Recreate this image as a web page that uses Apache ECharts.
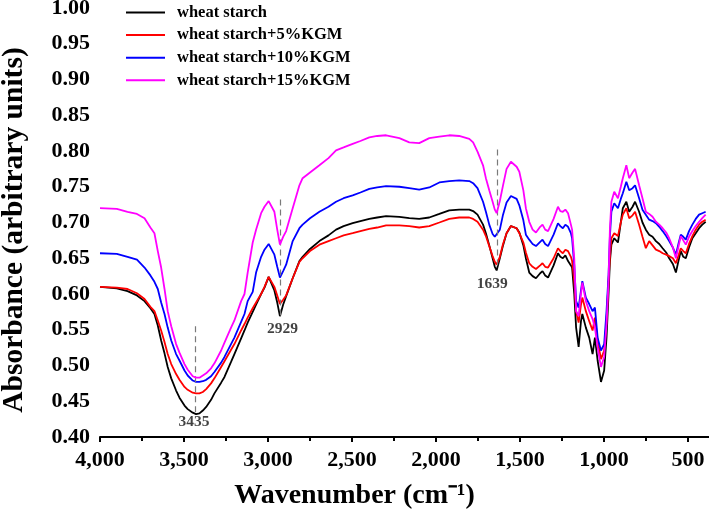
<!DOCTYPE html>
<html>
<head>
<meta charset="utf-8">
<script src="https://cdn.jsdelivr.net/npm/echarts@6/dist/echarts.min.js"></script>
<style>html,body{margin:0;padding:0;background:#fff}#c{width:709px;height:519px}</style>
</head>
<body>
<div id="c"></div>
<script>
const seriesNames = ['wheat starch', 'wheat starch+5%KGM', 'wheat starch+10%KGM', 'wheat starch+15%KGM'];
const seriesColors = ['#000000', '#ff0000', '#0000ff', '#ff00ff'];

const wavenumbers = [4000,3900,3836,3780,3735,3700,3676,3656,3636,3616,3597,3576,3547,3527,3497,3478,3448,3428,3408,3388,3368,3339,3319,3279,3259,3220,3200,3160,3140,3121,3091,3071,3041,3021,2996,2962,2945,2929,2910,2892,2853,2813,2794,2750,2694,2640,2595,2550,2496,2450,2397,2350,2297,2218,2159,2100,2040,1980,1921,1862,1802,1779,1753,1720,1703,1683,1663,1650,1639,1620,1601,1580,1554,1544,1520,1504,1480,1465,1445,1425,1405,1396,1380,1366,1350,1333,1300,1274,1260,1245,1230,1214,1197,1190,1177,1166,1151,1137,1129,1108,1088,1068,1054,1038,1018,999,985,973,965,956,939,917,900,888,867,850,830,815,791,771,751,731,711,691,671,651,630,612,590,572,555,543,528,513,494,474,454,434,415,395];

const wheatStarch = [0.610,0.608,0.604,0.598,0.590,0.580,0.572,0.556,0.535,0.517,0.498,0.482,0.465,0.455,0.444,0.439,0.434,0.432,0.433,0.437,0.442,0.452,0.461,0.476,0.484,0.505,0.516,0.538,0.549,0.560,0.575,0.585,0.600,0.609,0.624,0.605,0.588,0.569,0.585,0.597,0.622,0.646,0.652,0.663,0.674,0.682,0.690,0.695,0.699,0.702,0.705,0.707,0.709,0.708,0.706,0.705,0.707,0.712,0.717,0.718,0.718,0.716,0.711,0.697,0.685,0.668,0.650,0.638,0.633,0.650,0.668,0.685,0.695,0.696,0.692,0.686,0.668,0.650,0.630,0.625,0.622,0.623,0.629,0.632,0.626,0.623,0.640,0.657,0.652,0.650,0.654,0.646,0.640,0.637,0.600,0.553,0.526,0.562,0.572,0.553,0.539,0.516,0.539,0.507,0.477,0.493,0.539,0.600,0.645,0.669,0.678,0.672,0.700,0.720,0.729,0.715,0.722,0.729,0.715,0.700,0.690,0.683,0.680,0.674,0.670,0.664,0.658,0.650,0.642,0.630,0.648,0.660,0.652,0.650,0.665,0.678,0.685,0.692,0.697,0.701];

const kgm5 = [0.610,0.609,0.607,0.601,0.593,0.582,0.576,0.563,0.549,0.533,0.516,0.502,0.488,0.480,0.470,0.466,0.462,0.461,0.461,0.463,0.467,0.475,0.482,0.498,0.506,0.522,0.530,0.549,0.558,0.567,0.580,0.588,0.600,0.610,0.624,0.610,0.598,0.586,0.592,0.598,0.622,0.645,0.650,0.660,0.669,0.674,0.678,0.682,0.685,0.688,0.691,0.693,0.696,0.696,0.695,0.693,0.695,0.700,0.705,0.707,0.707,0.705,0.701,0.690,0.681,0.667,0.653,0.645,0.641,0.652,0.670,0.685,0.695,0.696,0.692,0.685,0.672,0.658,0.643,0.638,0.635,0.634,0.640,0.643,0.638,0.637,0.650,0.664,0.660,0.657,0.662,0.660,0.652,0.646,0.618,0.576,0.560,0.585,0.595,0.576,0.562,0.549,0.567,0.535,0.509,0.521,0.562,0.618,0.650,0.678,0.685,0.681,0.700,0.711,0.720,0.706,0.710,0.715,0.697,0.680,0.664,0.674,0.668,0.662,0.660,0.657,0.655,0.653,0.650,0.643,0.655,0.664,0.660,0.657,0.670,0.681,0.690,0.697,0.701,0.704];

const kgm10 = [0.657,0.656,0.652,0.648,0.637,0.626,0.617,0.607,0.588,0.572,0.553,0.535,0.516,0.507,0.493,0.486,0.479,0.477,0.477,0.478,0.480,0.485,0.491,0.504,0.512,0.530,0.539,0.561,0.572,0.590,0.603,0.630,0.652,0.662,0.670,0.655,0.638,0.623,0.632,0.641,0.674,0.692,0.697,0.706,0.715,0.722,0.729,0.734,0.738,0.742,0.747,0.749,0.751,0.750,0.748,0.746,0.749,0.756,0.758,0.759,0.758,0.755,0.748,0.729,0.715,0.697,0.684,0.680,0.678,0.690,0.711,0.728,0.737,0.738,0.733,0.724,0.703,0.683,0.676,0.670,0.667,0.667,0.673,0.676,0.670,0.667,0.683,0.699,0.695,0.692,0.697,0.694,0.685,0.678,0.640,0.590,0.581,0.605,0.618,0.595,0.586,0.576,0.581,0.539,0.521,0.530,0.576,0.627,0.680,0.715,0.727,0.720,0.733,0.741,0.757,0.745,0.748,0.752,0.734,0.718,0.711,0.704,0.702,0.699,0.694,0.688,0.681,0.674,0.665,0.655,0.672,0.683,0.680,0.676,0.688,0.697,0.705,0.711,0.713,0.715];

const kgm15 = [0.720,0.719,0.715,0.712,0.706,0.693,0.685,0.660,0.637,0.607,0.576,0.555,0.530,0.518,0.502,0.494,0.485,0.483,0.483,0.486,0.489,0.496,0.503,0.521,0.532,0.553,0.563,0.590,0.600,0.630,0.672,0.690,0.713,0.722,0.730,0.715,0.690,0.669,0.680,0.688,0.720,0.752,0.762,0.770,0.780,0.790,0.801,0.805,0.810,0.814,0.819,0.821,0.822,0.818,0.812,0.811,0.818,0.820,0.822,0.821,0.817,0.812,0.799,0.780,0.762,0.745,0.729,0.718,0.713,0.730,0.752,0.775,0.785,0.784,0.778,0.771,0.745,0.720,0.701,0.690,0.686,0.685,0.694,0.697,0.690,0.688,0.705,0.722,0.716,0.715,0.718,0.713,0.697,0.690,0.650,0.576,0.569,0.600,0.616,0.590,0.576,0.565,0.553,0.525,0.498,0.512,0.558,0.618,0.690,0.729,0.743,0.734,0.750,0.762,0.780,0.762,0.770,0.775,0.752,0.734,0.715,0.712,0.708,0.701,0.697,0.692,0.686,0.678,0.665,0.650,0.668,0.681,0.675,0.669,0.680,0.688,0.695,0.701,0.706,0.711];

// peak annotations
const peakLabels = ['3435', '2929', '1639'];
const peakLineX = [3432, 2926, 1637];
const peakLineTop = [0.555, 0.732, 0.802];
const peakLineBottom = [0.435, 0.570, 0.636];
const peakLabelX = [3441, 2914, 1665];
const peakLabelY = [0.421, 0.551, 0.614];

const allValues = [wheatStarch, kgm5, kgm10, kgm15];
const FONT = 'Liberation Serif';

const chart = echarts.init(document.getElementById('c'), null, {renderer: 'canvas'});

const lineSeries = allValues.map((vals, i) => ({
  name: seriesNames[i],
  type: 'line',
  data: wavenumbers.map((w, j) => [w, vals[j]]),
  showSymbol: false,
  symbol: 'none',
  lineStyle: {color: seriesColors[i], width: 1.8},
  itemStyle: {color: seriesColors[i]},
  animation: false,
  z: 2 + i
}));

const annoSeries = {
  type: 'scatter',
  data: peakLabels.map((t, i) => [peakLabelX[i], peakLabelY[i], t]),
  symbolSize: 1,
  itemStyle: {color: 'rgba(0,0,0,0)'},
  label: {
    show: true, position: 'inside',
    formatter: p => p.value[2],
    color: '#111', fontFamily: FONT, fontSize: 15.5, fontWeight: 'bold'
  },
  markLine: {
    silent: true, symbol: ['none', 'none'],
    label: {show: false},
    lineStyle: {color: '#7a7a7a', width: 1.2, type: [6, 4]},
    data: peakLineX.map((x, i) => [{coord: [x, peakLineTop[i]]}, {coord: [x, peakLineBottom[i]]}])
  },
  animation: false,
  z: 10
};

chart.setOption({
  backgroundColor: '#fff',
  animation: false,
  grid: {left: 100, top: 8, width: 672, height: 429, containLabel: false, outerBoundsMode: 'none'},
  legend: {
    orient: 'vertical', left: 126, top: 4, padding: 0,
    data: seriesNames,
    icon: 'rect', itemWidth: 39, itemHeight: 2, itemGap: 5.6,
    textStyle: {fontFamily: FONT, fontWeight: 'bold', fontSize: 16.5, color: '#000', lineHeight: 16, padding: [0, 0, 0, 7]}
  },
  xAxis: {
    type: 'value', inverse: true, min: 0, max: 4000, interval: 500,
    axisLine: {show: true, lineStyle: {color: '#000', width: 2}},
    axisTick: {show: true, length: 5, lineStyle: {color: '#000', width: 2}},
    minorTick: {show: true, splitNumber: 2, length: 4, lineStyle: {color: '#000', width: 2}},
    splitLine: {show: false},
    axisLabel: {
      margin: 12, color: '#000', fontFamily: FONT, fontWeight: 'bold', fontSize: 22,
      formatter: v => v === 0 ? '' : v.toLocaleString('en-US')
    }
  },
  yAxis: {
    type: 'value', min: 0.4, max: 1.0, interval: 0.05,
    axisLine: {show: true, lineStyle: {color: '#000', width: 2}},
    axisTick: {show: true, length: 5, lineStyle: {color: '#000', width: 2}},
    minorTick: {show: true, splitNumber: 2, length: 4, lineStyle: {color: '#000', width: 2}},
    splitLine: {show: false},
    axisLabel: {
      margin: 10, color: '#000', fontFamily: FONT, fontWeight: 'bold', fontSize: 22,
      formatter: v => v.toFixed(2)
    }
  },
  graphic: [{
    type: 'text', left: 'center', top: 482,
    style: {text: 'Wavenumber (cm⁻¹)', fontFamily: FONT, fontWeight: 'bold', fontSize: 28, fill: '#000'}
  }, {
    type: 'text', x: 14, y: 230, rotation: Math.PI / 2,
    style: {text: 'Absorbance (arbitrary units)', fontFamily: FONT, fontWeight: 'bold', fontSize: 29.5, fill: '#000', align: 'center', verticalAlign: 'middle'}
  }],
  series: lineSeries.concat([annoSeries])
});
</script>
</body>
</html>
